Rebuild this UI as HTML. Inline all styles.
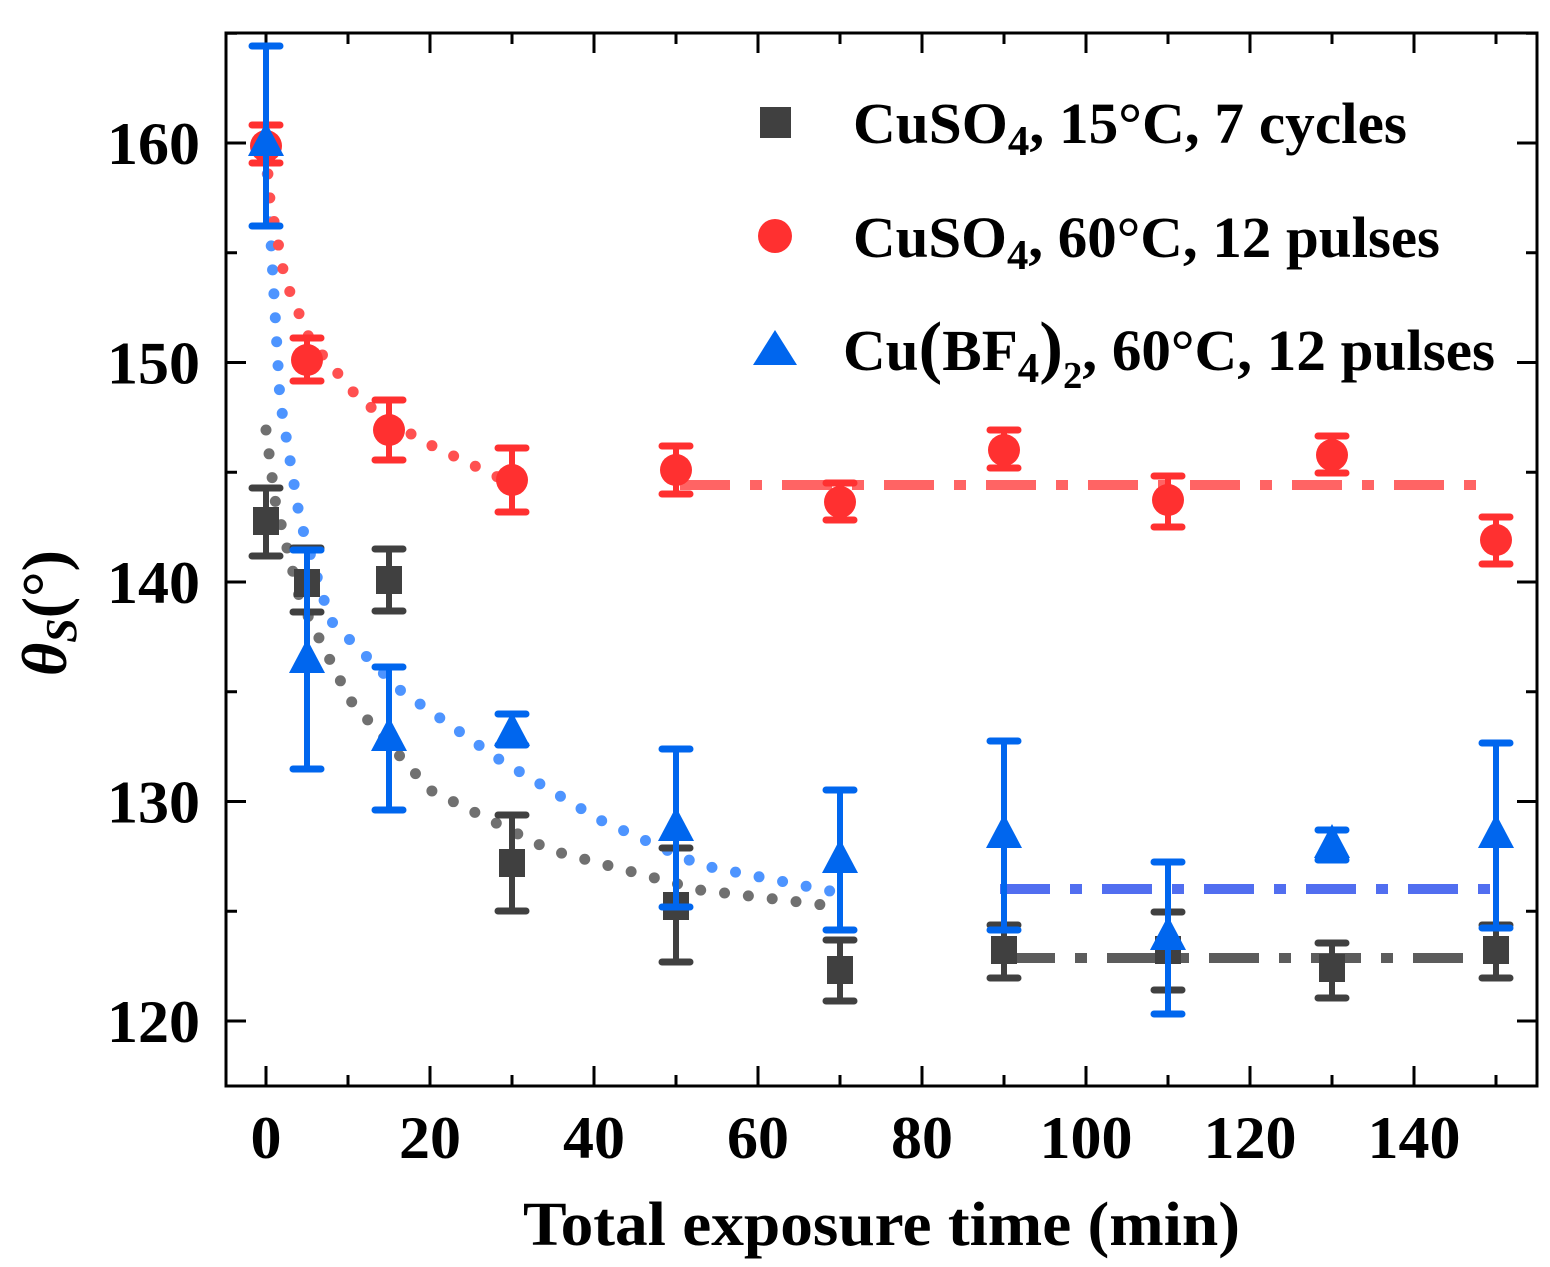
<!DOCTYPE html>
<html><head><meta charset="utf-8"><style>
html,body{margin:0;padding:0;background:#fff;}
svg{display:block;}
text{font-family:"Liberation Serif",serif;font-weight:bold;fill:#000;}
</style></head><body>
<svg id="s" width="1550" height="1267" viewBox="0 0 1550 1267" xmlns="http://www.w3.org/2000/svg">
<rect width="1550" height="1267" fill="#fff"/>
<g id="g"></g>
<!-- legend -->
<rect x="760" y="107" width="31" height="31" fill="#404040"/>
<circle cx="775" cy="236" r="17" fill="#ff3030"/>
<polygon points="775,330 797,365 753,365" fill="#0066ee"/>
<text x="853" y="143" font-size="58" textLength="554" lengthAdjust="spacingAndGlyphs">CuSO<tspan font-size="42" dy="12">4</tspan><tspan dy="-12">, 15°C, 7 cycles</tspan></text>
<text x="853" y="257" font-size="58" textLength="587" lengthAdjust="spacingAndGlyphs">CuSO<tspan font-size="42" dy="12">4</tspan><tspan dy="-12">, 60°C, 12 pulses</tspan></text>
<text x="843" y="370" font-size="58" textLength="652" lengthAdjust="spacingAndGlyphs">Cu<tspan font-size="70">(</tspan>BF<tspan font-size="42" dy="12">4</tspan><tspan font-size="70" dy="-12">)</tspan><tspan font-size="38" dy="18">2</tspan><tspan dy="-18">, 60°C, 12 pulses</tspan></text>
<!-- axis titles -->
<text x="523" y="1245" font-size="62" textLength="717" lengthAdjust="spacingAndGlyphs">Total exposure time (min)</text>
<text transform="translate(66,676) rotate(-90)" font-size="64"><tspan font-style="italic">θ</tspan><tspan font-style="italic" font-size="44" dy="10">S</tspan><tspan dy="-10">(°)</tspan></text>
</svg>
<script>
const g=document.getElementById('g');const NS='http://www.w3.org/2000/svg';
function el(t,a,p){const e=document.createElementNS(NS,t);for(const k in a)e.setAttribute(k,a[k]);if(p!==undefined)e.textContent=p;g.appendChild(e);return e;}
const X=t=>266+8.2*t, Y=v=>143+(160-v)*21.95;
const L=226,R=1537,T=33,B=1086;
for(let t=0;t<=150;t+=10){const x=X(t),len=t%20==0?20:11;
 el('line',{x1:x,y1:B,x2:x,y2:B-len,stroke:'#000','stroke-width':3});
 el('line',{x1:x,y1:T,x2:x,y2:T+len,stroke:'#000','stroke-width':3});
 if(t%20==0){const s=String(t);el('text',{x:x-s.length*15.5,y:1158,'font-size':60,textLength:s.length*31,lengthAdjust:'spacingAndGlyphs'},s);}}
for(let v=120;v<=165;v+=5){const y=Y(v),len=v%10==0?20:11;
 el('line',{x1:L,y1:y,x2:L+len,y2:y,stroke:'#000','stroke-width':3});
 el('line',{x1:R,y1:y,x2:R-len,y2:y,stroke:'#000','stroke-width':3});
 if(v%10==0&&v<=160)el('text',{x:107,y:y+21,'font-size':60,textLength:93,lengthAdjust:'spacingAndGlyphs'},String(v));}
el('rect',{x:L,y:T,width:R-L,height:B-T,fill:'none',stroke:'#000','stroke-width':3});
function poly(pts,col){el('polyline',{points:pts.map(p=>p.join(',')).join(' '),fill:'none',stroke:col,'stroke-width':11,'stroke-linecap':'round','stroke-dasharray':'0 24'});}
poly([[266,150],[272,260],[280,400],[300,520],[330,620],[400,690],[500,760],[600,820],[700,865],[840,893]],'#4d94ff');
poly([[266,150],[270,200],[285,280],[310,340],[360,400],[420,440],[500,478]],'#ff5050');
poly([[266,430],[275,500],[300,600],[350,700],[430,790],[550,850],[700,890],[840,907]],'#707070');
function dd(y,x1,x2,col){el('line',{x1:x1,y1:y,x2:x2,y2:y,stroke:col,'stroke-width':10,'stroke-dasharray':'50 20 12 20','opacity':0.85});}
dd(485,680,1490,'#ff4a4a');dd(889,1000,1495,'#3355ee');dd(958,1005,1495,'#404040');
const blk=[[0,521,488,556],[5,583,548,612],[15,580,549,611],[30,863,815,911],[50,906,848,962],[70,970,940,1001],[90,950,925,978],[110,950,912,990],[130,968,943,998],[150,950,925,978]];
const red=[[0,146,125,163],[5,360,338,381],[15,430,400,460],[30,480,448,512],[50,470,446,494],[70,502,483,520],[90,450,430,468],[110,500,476,527],[130,455,436,473],[150,540,517,564]];
const blu=[[0,143,46,226],[5,660,550,769],[15,738,667,810],[30,733,714,745],[50,828,749,907],[70,860,790,930],[90,835,741,930],[110,937,862,1014],[130,845,830,860],[150,835,743,928]];
function eb(x,y1,y2,c){el('line',{x1:x,y1:y1,x2:x,y2:y2,stroke:c,'stroke-width':6});
 el('line',{x1:x-14,y1:y1,x2:x+14,y2:y1,stroke:c,'stroke-width':7,'stroke-linecap':'round'});
 el('line',{x1:x-14,y1:y2,x2:x+14,y2:y2,stroke:c,'stroke-width':7,'stroke-linecap':'round'});}
blk.forEach(d=>{const x=X(d[0]);eb(x,d[2],d[3],'#404040');el('rect',{x:x-13,y:d[1]-14,width:26,height:28,fill:'#404040'});});
red.forEach(d=>{const x=X(d[0]);eb(x,d[2],d[3],'#ff3030');el('circle',{cx:x,cy:d[1],r:16,fill:'#ff3030'});});
blu.forEach(d=>{const x=X(d[0]);eb(x,d[2],d[3],'#0066ee');const y=d[1];el('polygon',{points:`${x},${y-21} ${x+18},${y+13} ${x-18},${y+13}`,fill:'#0066ee'});});
</script>
</body></html>
